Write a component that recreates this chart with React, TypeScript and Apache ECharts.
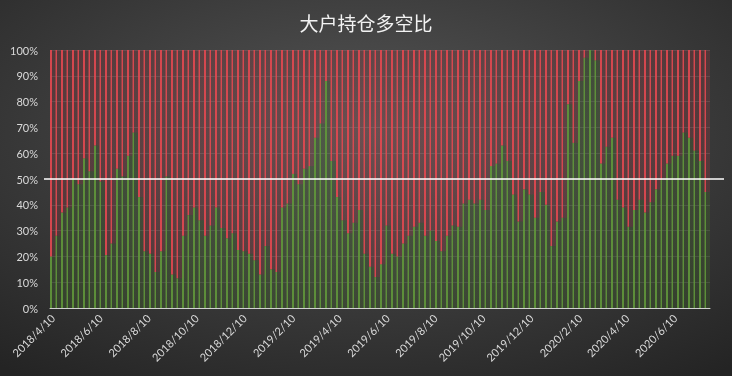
import React, { useEffect, useRef } from "react";
import * as echarts from "echarts";

// Weekly observation dates (first week and count)
const firstWeek = [2018, 4, 10];
const weekCount = 120;

// Share of long positions held by large traders (%), one value per week
const longShare = [
  20, 28, 37, 39, 50, 48, 58, 53, 63, 49,
  20.5, 25, 54, 51, 59, 68, 43, 22, 21, 14,
  22, 51, 13, 11.5, 28, 36, 39, 34, 28, 32,
  39, 31, 27, 29, 22.5, 22, 21, 18.5, 13, 24,
  15, 14, 39, 40.5, 52, 48, 54, 55, 66, 71.5,
  88, 57, 43, 34, 29, 33, 38, 21, 16, 12,
  17, 32, 21, 20, 25, 28, 31.5, 33, 28, 30,
  26, 22, 28, 32, 31.5, 40.5, 42, 40.5, 42, 38,
  55, 56, 63, 57, 44, 33.5, 46, 44, 35, 45,
  40, 24, 33.5, 35, 79, 64, 88, 97, 100, 96,
  56, 62.5, 66, 42, 39, 31.5, 38, 42, 37, 41,
  46, 49.6, 56, 59, 59, 68, 66, 61, 57, 45,
];
// Short share is the complement of the long share
const shortShare = longShare.map((v) => 100 - v);

// X axis tick labels (every two months from the first date)
const xTickLabels = [
  "2018/4/10", "2018/6/10", "2018/8/10", "2018/10/10", "2018/12/10",
  "2019/2/10", "2019/4/10", "2019/6/10", "2019/8/10", "2019/10/10",
  "2019/12/10", "2020/2/10", "2020/4/10", "2020/6/10",
];

const yTicks = [0, 10, 20, 30, 40, 50, 60, 70, 80, 90, 100];
const midLine = 50;

const DAY = 24 * 3600 * 1000;

function parseYMD(s: string) {
  const [y, m, d] = s.split("/").map(Number);
  return new Date(y, m - 1, d).getTime();
}
function fmt(v: number) {
  const d = new Date(v);
  return `${d.getFullYear()}/${d.getMonth() + 1}/${d.getDate()}`;
}

const weekDates: number[] = [];
for (let i = 0; i < weekCount; i++) {
  weekDates.push(new Date(firstWeek[0], firstWeek[1] - 1, firstWeek[2] + 7 * i).getTime());
}

function stripe(bright: string, dark: string) {
  return {
    type: "linear",
    x: 0,
    y: 0,
    x2: 1,
    y2: 0,
    colorStops: [
      { offset: 0, color: bright },
      { offset: 0.36, color: bright },
      { offset: 0.36, color: dark },
      { offset: 1, color: dark },
    ],
  };
}

export default function App() {
  const ref = useRef<HTMLDivElement>(null);
  useEffect(() => {
    if (!ref.current) return;
    const chart = echarts.init(ref.current, null, { renderer: "svg" });
    const minX = weekDates[0] - 3.5 * DAY;
    const maxX = weekDates[weekDates.length - 1] + 3.5 * DAY;
    const labelFont = "Lato, 'Noto Sans', sans-serif";
    chart.setOption({
      animation: false,
      backgroundColor: {
        type: "radial",
        x: 0.5,
        y: 0.35,
        r: 0.8,
        colorStops: [
          { offset: 0, color: "#555555" },
          { offset: 1, color: "#242424" },
        ],
      },
      title: {
        text: "大户持仓多空比",
        left: "center",
        top: 8,
        textStyle: {
          color: "#f2f2f2",
          fontSize: 19,
          fontWeight: "normal",
          fontFamily: "'Noto Sans CJK SC', sans-serif",
        },
      },
      grid: [
        { left: 50, right: 22, top: 50, bottom: 68 },
        { left: 44, right: 8, top: 50, bottom: 68 },
      ],
      xAxis: [
        {
          type: "category",
          gridIndex: 0,
          position: "bottom",
          data: weekDates.map(fmt),
          boundaryGap: true,
          axisLine: { show: true, lineStyle: { color: "#d0d0d0", width: 1 } },
          axisTick: { show: false },
          splitLine: { show: false },
          axisLabel: { show: false },
        },
        {
          type: "value",
          gridIndex: 1,
          min: 0,
          max: 1,
          show: false,
        },
        {
          type: "value",
          gridIndex: 0,
          position: "bottom",
          offset: 0,
          min: minX,
          max: maxX,
          axisLine: { show: false },
          axisTick: { show: false },
          splitLine: { show: false },
          axisLabel: {
            customValues: xTickLabels.map(parseYMD),
            rotate: 45,
            margin: 8,
            color: "#d9d9d9",
            fontSize: 11,
            fontFamily: labelFont,
            formatter: (v: number) => fmt(v),
          },
        },
      ],
      yAxis: [
        {
          type: "value",
          gridIndex: 0,
          min: yTicks[0],
          max: yTicks[yTicks.length - 1],
          interval: 10,
          axisLine: { show: false },
          axisTick: { show: false },
          splitLine: { lineStyle: { color: "rgba(255,255,255,0.12)", width: 1 } },
          axisLabel: {
            formatter: "{value}%",
            color: "#d9d9d9",
            fontSize: 11,
            fontFamily: labelFont,
            margin: 12,
          },
        },
        {
          type: "value",
          gridIndex: 1,
          min: 0,
          max: 100,
          show: false,
        },
      ],
      series: [
        {
          name: "多",
          type: "bar",
          stack: "ratio",
          xAxisIndex: 0,
          yAxisIndex: 0,
          barCategoryGap: "0%",
          data: longShare,
          itemStyle: { color: stripe("rgba(96,150,58,0.92)", "rgba(70,105,45,0.3)") },
        },
        {
          name: "空",
          type: "bar",
          stack: "ratio",
          xAxisIndex: 0,
          yAxisIndex: 0,
          barCategoryGap: "0%",
          data: shortShare,
          itemStyle: { color: stripe("rgba(226,72,80,0.92)", "rgba(180,60,68,0.22)") },
        },
        {
          name: "50%",
          type: "line",
          xAxisIndex: 1,
          yAxisIndex: 1,
          z: 10,
          symbol: "none",
          data: [
            [0, midLine],
            [1, midLine],
          ],
          lineStyle: { color: "#ffffff", width: 1.5 },
        },
      ],
    });
    return () => chart.dispose();
  }, []);
  return (
    <div
      ref={ref}
      style={{ position: "fixed", left: 0, top: 0, width: 732, height: 376 }}
    />
  );
}
